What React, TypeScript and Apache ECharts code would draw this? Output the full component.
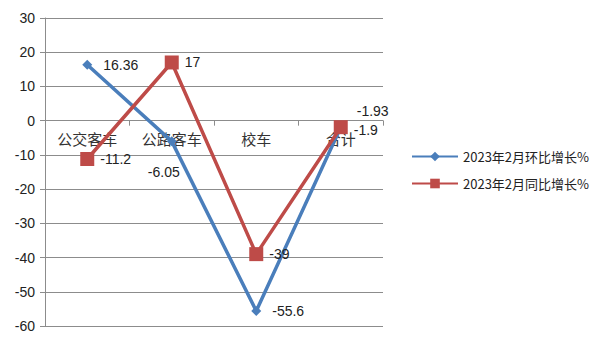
import React, { useEffect, useRef } from "react";
import * as echarts from "echarts";

const categories = ["公交客车", "公路客车", "校车", "合计"];
const momName = "2023年2月环比增长%";
const yoyName = "2023年2月同比增长%";
const momValues = [16.36, -6.05, -55.6, -1.93];
const yoyValues = [-11.2, 17, -39, -1.9];
const yMin = -60;
const yMax = 30;

export default function App() {
  const ref = useRef<HTMLDivElement>(null);
  useEffect(() => {
    const chart = echarts.init(ref.current!, null, { renderer: "svg" });
    const font = "'Liberation Sans', 'Noto Sans CJK SC', sans-serif";
    const lbl = { show: true, position: "right" as const, color: "#222", fontSize: 14, fontFamily: font, distance: 6 };
    const gridTop = 18;
    const gridBottom = 19;
    const gridH = 345 - gridTop - gridBottom;
    const zeroFromBottom = (gridH * (0 - yMin)) / (yMax - yMin);
    chart.setOption({
      animation: false,
      backgroundColor: "#fff",
      textStyle: { fontFamily: font },
      graphic: [
        { type: "rect", shape: { x: 0.5, y: 0.5, width: 598, height: 343 }, style: { fill: "none", stroke: "#8c8c8c", lineWidth: 1 } },
      ],
      grid: { left: 45, right: 217, top: gridTop, bottom: gridBottom, containLabel: false },
      legend: {
        orient: "vertical",
        left: 406,
        top: 145,
        itemGap: 14,
        itemWidth: 46,
        itemHeight: 12,
        textStyle: { fontSize: 13, color: "#222", fontFamily: "'Noto Sans CJK SC', sans-serif" },
        data: [momName, yoyName],
      },
      xAxis: {
        type: "category",
        data: categories,
        boundaryGap: true,
        position: "bottom",
        offset: -zeroFromBottom,
        axisLine: { onZero: false, lineStyle: { color: "#8c8c8c", width: 1 } },
        axisTick: { show: true, length: 5, lineStyle: { color: "#8c8c8c" } },
        axisLabel: { color: "#333", fontSize: 15, margin: 10, fontFamily: "'Noto Sans CJK SC', sans-serif" },
        splitLine: { show: false },
      },
      yAxis: {
        type: "value",
        min: yMin,
        max: yMax,
        interval: 10,
        axisLine: { show: true, lineStyle: { color: "#8c8c8c" } },
        axisTick: { show: true, length: 5, lineStyle: { color: "#8c8c8c" } },
        axisLabel: { color: "#222", fontSize: 14, margin: 10, fontFamily: font },
        splitLine: { show: true, lineStyle: { color: "#8c8c8c", width: 1 } },
      },
      series: [
        {
          name: momName,
          type: "line",
          data: momValues.map((v, i) => {
            if (i === 1) return { value: v, label: { position: "bottom", offset: [-8, 8] } };
            if (i === 3) return { value: v, label: { position: "right", offset: [0, -16] } };
            return v;
          }),
          symbol: "diamond",
          symbolSize: 10,
          lineStyle: { color: "#4a7ebb", width: 3.5 },
          itemStyle: { color: "#4a7ebb" },
          label: { ...lbl, distance: 11 },
          z: 2,
        },
        {
          name: yoyName,
          type: "line",
          data: yoyValues.map((v, i) => {
            if (i === 3) return { value: v, label: { position: "right", offset: [0, 3] } };
            return v;
          }),
          symbol: "rect",
          symbolSize: 14,
          lineStyle: { color: "#be4b48", width: 3.5 },
          itemStyle: { color: "#be4b48" },
          label: lbl,
          z: 3,
        },
      ],
    });
    return () => chart.dispose();
  }, []);
  return <div ref={ref} style={{ width: 600, height: 345, margin: -8 }} />;
}
